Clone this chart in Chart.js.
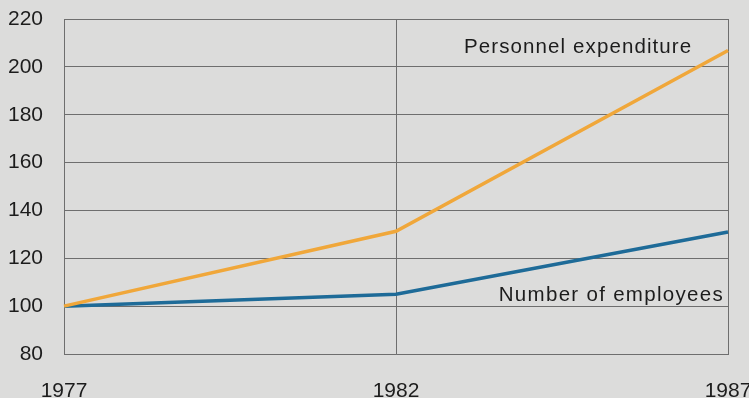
<!DOCTYPE html>
<html>
<head>
<meta charset="utf-8">
<script src="https://cdn.jsdelivr.net/npm/chart.js@4"></script>
<style>
  html, body { margin: 0; padding: 0; background: #dcdcdb; }
  #wrap { width: 749px; height: 398px; position: relative; }
</style>
</head>
<body>
<div id="wrap"><canvas id="c"></canvas></div>
<script>
// Index values, 1977 = 100
const years = ['1977', '1982', '1987'];
const personnelExpenditure = [100, 131.3, 206.8];
const numberOfEmployees = [100, 105, 131];
const yTicks = [80, 100, 120, 140, 160, 180, 200, 220];

const seriesNames = ['Personnel expenditure', 'Number of employees'];

const FONT = '"Liberation Sans", Arial, Helvetica, sans-serif';

// Inline series names drawn inside the plot area
const seriesLabels = {
  id: 'seriesLabels',
  afterDatasetsDraw(chart) {
    const { ctx, scales } = chart;
    const x = scales.x, y = scales.y;
    ctx.save();
    ctx.fillStyle = '#1c1c1c';
    ctx.font = '20.5px ' + FONT;
    ctx.textBaseline = 'alphabetic';
    ctx.textAlign = 'left';
    const mid = x.getPixelForValue(1);
    const right = x.getPixelForValue(2);
    ctx.letterSpacing = '1.1px';
    ctx.fillText(seriesNames[0], mid + 0.205 * (right - mid), y.getPixelForValue(206));
    ctx.textAlign = 'right';
    ctx.letterSpacing = '1.3px';
    ctx.fillText(seriesNames[1], right - 4, y.getPixelForValue(102));
    ctx.restore();
  }
};

new Chart(document.getElementById('c'), {
  type: 'line',
  data: {
    labels: years,
    datasets: [
      {
        label: seriesNames[0],
        data: personnelExpenditure,
        borderColor: '#f0a73a',
        borderWidth: 3.5,
        pointRadius: 0,
        tension: 0
      },
      {
        label: seriesNames[1],
        data: numberOfEmployees,
        borderColor: '#1e6b98',
        borderWidth: 3.5,
        pointRadius: 0,
        tension: 0
      }
    ]
  },
  options: {
    responsive: true,
    maintainAspectRatio: false,
    animation: false,
    layout: { padding: { top: 19, right: 21, left: 0, bottom: 0 } },
    plugins: {
      legend: { display: false },
      tooltip: { enabled: false }
    },
    scales: {
      x: {
        type: 'category',
        offset: false,
        grid: { color: '#6e6e6e', lineWidth: 1, drawTicks: false },
        border: { color: '#6e6e6e', width: 1 },
        ticks: {
          color: '#1c1c1c',
          font: { family: FONT, size: 21 },
          padding: 25,
          maxRotation: 0,
          autoSkip: false
        },
        afterFit(scale) {
          scale.height = 44;
          scale.paddingLeft = 0;
          scale.paddingRight = 0;
        }
      },
      y: {
        min: 80,
        max: 220,
        afterBuildTicks(scale) {
          scale.ticks = yTicks.map(v => ({ value: v }));
        },
        grid: { color: '#6e6e6e', lineWidth: 1, drawTicks: false },
        border: { color: '#6e6e6e', width: 1 },
        ticks: {
          color: '#1c1c1c',
          font: { family: FONT, size: 21 },
          padding: 21
        },
        afterFit(scale) {
          scale.width = 64;
          scale.paddingTop = 0;
          scale.paddingBottom = 0;
        }
      }
    }
  },
  plugins: [seriesLabels]
});
</script>
</body>
</html>
